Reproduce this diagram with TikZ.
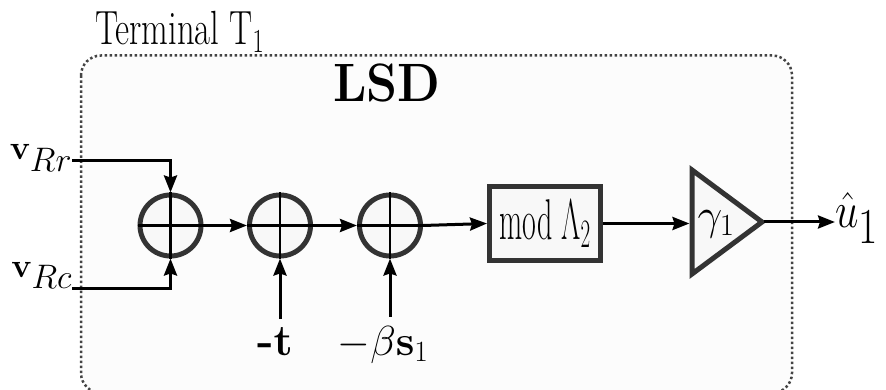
\RequirePackage{fix-cm}
\documentclass[tikz,border=0pt]{standalone}
\usepackage{graphicx}
\usetikzlibrary{arrows.meta}
\definecolor{framecol}{HTML}{444444}
\definecolor{strokecol}{HTML}{333333}
\definecolor{boxfill}{HTML}{FCFCFC}
\definecolor{shapefill}{HTML}{F8F8F8}
\begin{document}
\begin{tikzpicture}[x=1pt,y=-1pt,
  conn/.style={line width=3pt,-{Stealth[length=17pt,width=13pt,inset=2pt]}},
  sumnode/.style={circle,draw=strokecol,line width=5pt,fill=shapefill,minimum size=61pt,inner sep=0pt},
  blocknode/.style={rectangle,draw=strokecol,line width=5pt,fill=shapefill,minimum width=111pt,minimum height=74pt,inner sep=0pt},
  lbl/.style={inner sep=0pt,outer sep=0pt},
  crossline/.style={line width=2.5pt,black},
  framebox/.style={draw=framecol,fill=boxfill,line width=2.5pt,dash pattern=on 2.5pt off 2.5pt,rounded corners=20pt}
]
\useasboundingbox (0,0) rectangle (886,390);
\draw[framebox] (81,55.5) rectangle (792,393);

\node[lbl,anchor=base west] (term) at (95,45) {\scalebox{0.72}[1]{\fontsize{48}{56}\selectfont Terminal T$_1$}};
\node[lbl,anchor=base west] (lsd) at (333,102) {\scalebox{0.92}[1]{\fontsize{54}{60}\selectfont\bfseries LSD}};

\node[sumnode] (s1) at (170.5,225.5) {};
\node[sumnode] (s2) at (280,225.5) {};
\node[sumnode] (s3) at (390,225.5) {};
\foreach \n in {s1,s2,s3}
  \draw[crossline] (\n.west) -- (\n.east) (\n.north) -- (\n.south);

\node[lbl,anchor=base east] (vrr) at (72,160) {\fontsize{34}{40}\selectfont$\mathbf{v}_{\textstyle Rr}$};
\node[lbl,anchor=base east] (vrc) at (72,277) {\fontsize{34}{40}\selectfont$\mathbf{v}_{\textstyle Rc}$};
\draw[conn] ([yshift=-1pt]vrr.base east) -| (s1.north);
\draw[conn] ([yshift=-11pt]vrc.base east) -| (s1.south);

\node[blocknode] (mod) at (545,223.5) {\scalebox{0.6}[1.15]{\fontsize{50}{60}\selectfont mod $\Lambda_2$}};

\draw[conn] (s1.east) -- (s2.west);
\draw[conn] (s2.east) -- (s3.west);
\draw[conn] (s3.east) -- (mod.west);

\draw[line width=5pt,draw=strokecol,fill=shapefill,line join=miter] (692,170) -- (762,222) -- (692,274) -- cycle;
\coordinate (gin) at (689.5,223.5);
\coordinate (gout) at (764,222);
\node[lbl] (gam) at (716,224) {\fontsize{44}{50}\selectfont$\gamma_1$};
\draw[conn] (mod.east) -- (gin);

\node[lbl,anchor=base west] (uhat) at (835,228) {\scalebox{1}[1.2]{\fontsize{42}{50}\selectfont$\hat{u}_{\textstyle 1}$}};
\draw[conn] (gout) -- (gout -| uhat.west);

\node[lbl,anchor=base] (tlab) at (275,355) {\fontsize{44}{50}\selectfont\textbf{-}$\mathbf{t}$};
\node[lbl,anchor=base] (bslab) at (383,355) {\fontsize{42}{50}\selectfont$-\beta\mathbf{s}_1$};
\draw[conn] ([yshift=8pt]tlab.north -| s2) -- (s2.south);
\draw[conn] ([yshift=9pt]bslab.north -| s3) -- (s3.south);
\end{tikzpicture}
\end{document}
